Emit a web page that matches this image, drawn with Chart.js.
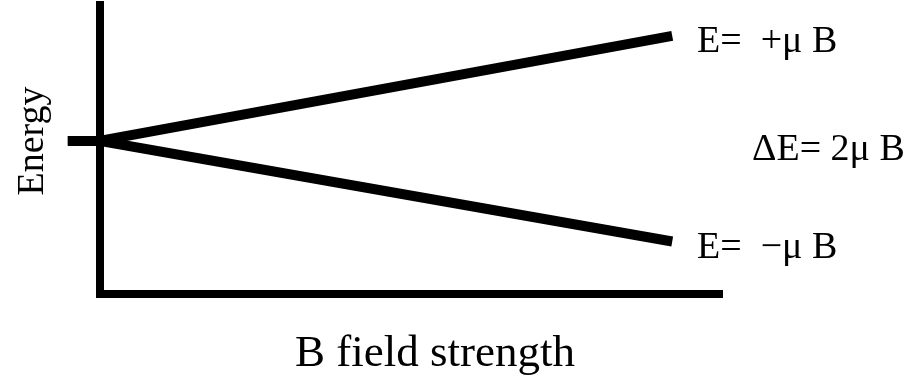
<!DOCTYPE html>
<html>
<head>
<meta charset="utf-8">
<script src="https://cdn.jsdelivr.net/npm/chart.js@4/dist/chart.umd.min.js"></script>
<style>
  body { margin: 0; background: #fff; }
</style>
</head>
<body>
<canvas id="myChart" width="909" height="379"></canvas>
<script>
// energy levels of a spin in a magnetic field (arbitrary units)
var fieldStrength = [0, 0.92];
var upperEnergy = [0, 3.5];    // E = +mu B
var lowerEnergy = [0, -3.35];  // E = -mu B
var zeroFieldX = [-0.052, 0];  // little stub at B = 0
var zeroEnergy = [0, 0];

var upperLabel = 'E=  +\u03bc B';
var lowerLabel = 'E=  \u2212\u03bc B';
var splitLabel = '\u0394E= 2\u03bc B';
var xTitle = 'B field strength';
var yTitle = 'Energy';

function toPoints(xs, ys) {
    var pts = [];
    for (var i in xs) {
        pts.push({x: xs[i], y: ys[i]});
    }
    return pts;
}

var serif = '"Liberation Serif", "Times New Roman", serif';

var whiteBg = {
    id: 'whiteBg',
    beforeDraw: function(chart) {
        var c = chart.ctx;
        c.save();
        c.fillStyle = '#fff';
        c.fillRect(0, 0, chart.width, chart.height);
        c.restore();
    }
};

var labels = {
    id: 'labels',
    afterDraw: function(chart) {
        var c = chart.ctx;
        c.save();
        c.fillStyle = '#000';
        c.textBaseline = 'alphabetic';
        c.textAlign = 'left';
        c.font = '38px ' + serif;
        c.fillText(upperLabel, 697, 52);
        c.fillText(splitLabel, 752, 160);
        c.fillText(lowerLabel, 697, 258);
        c.font = '45px ' + serif;
        c.fillText(xTitle, 295, 366);
        c.translate(43, 141);
        c.rotate(-Math.PI / 2);
        c.textAlign = 'center';
        c.font = '38px ' + serif;
        c.fillText(yTitle, 0, 0);
        c.restore();
    }
};

window.onload = () => {
    var ctx = document.getElementById('myChart').getContext('2d');
    var lineStyle = {
        borderColor: '#000',
        borderWidth: 10,
        borderCapStyle: 'butt',
        pointRadius: 0,
        tension: 0,
        fill: false
    };
    var myChart = new Chart(ctx, {
        type: 'line',
        data: {
            datasets: [
                Object.assign({label: upperLabel, data: toPoints(fieldStrength, upperEnergy)}, lineStyle),
                Object.assign({label: lowerLabel, data: toPoints(fieldStrength, lowerEnergy)}, lineStyle),
                Object.assign({label: 'zero', data: toPoints(zeroFieldX, zeroEnergy), clip: false}, lineStyle)
            ]
        },
        options: {
            responsive: false,
            animation: false,
            layout: { padding: { left: 100, right: 187, top: 5, bottom: 85 } },
            plugins: {
                legend: { display: false },
                tooltip: { enabled: false }
            },
            scales: {
                x: {
                    type: 'linear',
                    min: 0,
                    max: 1,
                    ticks: { display: false },
                    grid: { display: false, drawTicks: false },
                    border: { display: true, color: '#000', width: 8 }
                },
                y: {
                    type: 'linear',
                    min: -5.1,
                    max: 4.53,
                    ticks: { display: false },
                    grid: { display: false, drawTicks: false },
                    border: { display: true, color: '#000', width: 8 }
                }
            }
        },
        plugins: [whiteBg, labels]
    });
}
</script>
</body>
</html>
